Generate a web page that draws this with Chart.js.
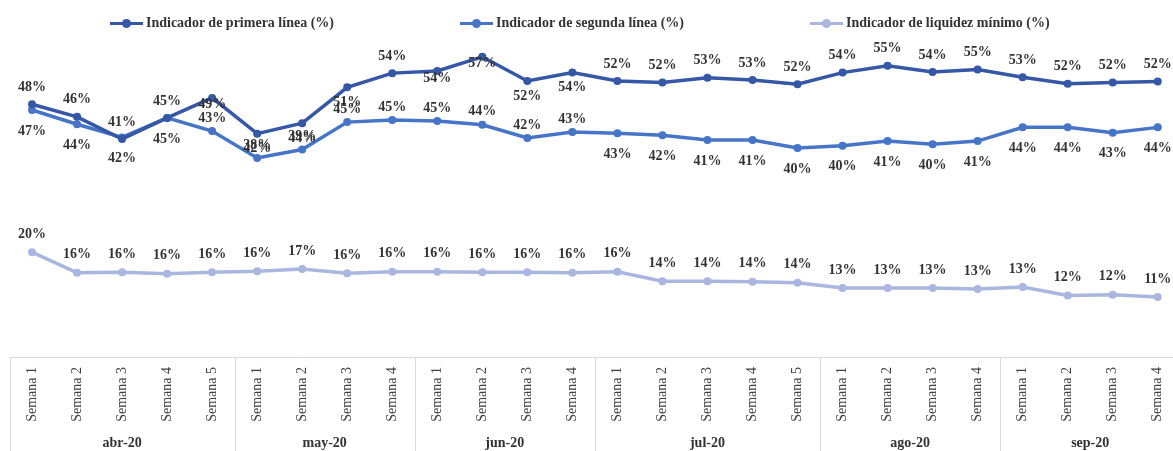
<!DOCTYPE html>
<html lang="es">
<head>
<meta charset="utf-8">
<title>Indicadores de liquidez</title>
<script src="https://cdn.jsdelivr.net/npm/chart.js@4.4.0/dist/chart.umd.min.js"></script>
<style>
  html, body { margin: 0; padding: 0; background: #fff; overflow: hidden; }
  .wrap { position: relative; width: 1173px; height: 451px; }
  .legend { position: absolute; top: 0; left: 0; width: 100%; height: 40px; }
  .legend-item {
    position: absolute; top: 15px; display: flex; align-items: center;
    font: bold 14px "Liberation Serif", serif; color: #333; white-space: nowrap;
  }
  .legend-mark { position: relative; width: 33px; height: 3px; margin-right: 3px; }
  .legend-mark::after {
    content: ""; position: absolute; left: 12px; top: -3px;
    width: 9px; height: 9px; border-radius: 50%; background: inherit;
  }
</style>
</head>
<body>
<div class="wrap">
  <div class="legend" id="legend"></div>
  <canvas id="chart" width="1173" height="451"></canvas>
</div>
<script>
// data
const weekLabels = [
  "Semana 1", "Semana 2", "Semana 3", "Semana 4", "Semana 5",
  "Semana 1", "Semana 2", "Semana 3", "Semana 4",
  "Semana 1", "Semana 2", "Semana 3", "Semana 4",
  "Semana 1", "Semana 2", "Semana 3", "Semana 4", "Semana 5",
  "Semana 1", "Semana 2", "Semana 3", "Semana 4",
  "Semana 1", "Semana 2", "Semana 3", "Semana 4"
];
const monthLabels = ["abr-20", "may-20", "jun-20", "jul-20", "ago-20", "sep-20"];
const weeksPerMonth = [5, 4, 4, 5, 4, 4];

const primeraLinea = [48, 45.6, 41.4, 45.4, 49.2, 42.4, 44.4, 51.2, 53.9, 54.3, 57, 52.4, 54,
  52.4, 52.1, 53, 52.6, 51.8, 54, 55.3, 54.1, 54.6, 53.1, 51.9, 52.1, 52.3];
const segundaLinea = [46.9, 44.2, 41.7, 45.4, 42.9, 37.8, 39.4, 44.6, 45, 44.8, 44.1, 41.6, 42.7,
  42.5, 42.1, 41.2, 41.2, 39.7, 40.1, 41, 40.4, 41, 43.6, 43.6, 42.6, 43.6];
const liquidezMinimo = [19.9, 16, 16.1, 15.8, 16.1, 16.3, 16.7, 15.9, 16.2, 16.2, 16.1, 16.1, 16,
  16.2, 14.4, 14.4, 14.3, 14.1, 13.1, 13.1, 13.1, 12.9, 13.3, 11.7, 11.8, 11.4];

// where each data label sits relative to its point
const primeraPos = ["above", "above", "above", "above", "center", "below", "below", "below",
  "above", "center", "center", "below", "below"].concat(Array(13).fill("above"));
const segundaPos = ["below", "below", "below", "below"].concat(Array(9).fill("above"), Array(13).fill("below"));
const liquidezPos = Array(26).fill("above");

const series = [
  { label: "Indicador de primera línea (%)", data: primeraLinea, color: "#3557a6", pos: primeraPos,
    offsets: { above: -17, below: 15, center: 7 } },
  { label: "Indicador de segunda línea (%)", data: segundaLinea, color: "#4674c6", pos: segundaPos,
    offsets: { above: -13, below: 21, center: 0 } },
  { label: "Indicador de liquidez mínimo (%)", data: liquidezMinimo, color: "#aab6df", pos: liquidezPos,
    offsets: { above: -18, below: 18, center: 0 } }
];

// legend (html)
const legendLeft = [110, 460, 810];
const legendEl = document.getElementById("legend");
series.forEach((s, i) => {
  const item = document.createElement("div");
  item.className = "legend-item";
  item.style.left = legendLeft[i] + "px";
  const mark = document.createElement("span");
  mark.className = "legend-mark";
  mark.style.background = s.color;
  item.appendChild(mark);
  item.appendChild(document.createTextNode(s.label));
  legendEl.appendChild(item);
});

const labelFont = 'bold 14px "Liberation Serif", serif';

// value labels next to points
const valueLabels = {
  id: "valueLabels",
  afterDatasetsDraw(chart) {
    const { ctx } = chart;
    ctx.save();
    ctx.font = labelFont;
    ctx.fillStyle = "#333";
    ctx.textAlign = "center";
    ctx.textBaseline = "middle";
    chart.data.datasets.forEach((ds, di) => {
      const meta = chart.getDatasetMeta(di);
      const s = series[di];
      meta.data.forEach((pt, i) => {
        const value = ds.data[i].y;
        const dy = s.offsets[s.pos[i]];
        ctx.fillText(Math.round(value) + "%", pt.x, pt.y + dy);
      });
    });
    ctx.restore();
  }
};

// month row and table lines under the week labels
const monthAxis = {
  id: "monthAxis",
  afterDraw(chart) {
    const { ctx, chartArea } = chart;
    const x = chart.scales.x;
    const top = chartArea.bottom;
    const bottom = chart.height;
    ctx.save();
    ctx.strokeStyle = "#d9d9d9";
    ctx.lineWidth = 1;
    ctx.beginPath();
    ctx.moveTo(x.getPixelForValue(-0.5), top + 0.5);
    ctx.lineTo(chart.width, top + 0.5);
    let start = 0;
    const edges = [-0.5];
    weeksPerMonth.forEach(n => { start += n; edges.push(start - 0.5); });
    edges.forEach(v => {
      const px = Math.round(x.getPixelForValue(v)) + 0.5;
      ctx.moveTo(px, top);
      ctx.lineTo(px, bottom);
    });
    ctx.stroke();

    ctx.font = 'bold 14px "Liberation Serif", serif';
    ctx.fillStyle = "#333";
    ctx.textAlign = "center";
    ctx.textBaseline = "middle";
    start = 0;
    monthLabels.forEach((m, i) => {
      const first = start, last = start + weeksPerMonth[i] - 1;
      const cx = (x.getPixelForValue(first) + x.getPixelForValue(last)) / 2;
      ctx.fillText(m, cx, 443);
      start += weeksPerMonth[i];
    });
    ctx.restore();
  }
};

const ctx = document.getElementById("chart").getContext("2d");
new Chart(ctx, {
  type: "line",
  data: {
    datasets: series.map(s => ({
      label: s.label,
      data: s.data.map((v, i) => ({ x: i, y: v })),
      borderColor: s.color,
      backgroundColor: s.color,
      borderWidth: 3.5,
      pointRadius: 4,
      pointBorderWidth: 0,
      tension: 0
    }))
  },
  plugins: [valueLabels, monthAxis],
  options: {
    responsive: false,
    animation: false,
    layout: { padding: { left: 9.5, right: 0, top: 41, bottom: 0 } },
    plugins: { legend: { display: false }, tooltip: { enabled: false } },
    scales: {
      x: {
        type: "linear",
        min: -0.5,
        max: 25.25,
        grid: { display: false, drawTicks: false },
        border: { display: false },
        afterBuildTicks: scale => { scale.ticks = weekLabels.map((_, i) => ({ value: i })); },
        afterFit: scale => {
          scale.height = 94;
          scale.paddingLeft = 0;
          scale.paddingRight = 0;
        },
        ticks: {
          autoSkip: false,
          minRotation: 90,
          maxRotation: 90,
          padding: 10,
          color: "#404040",
          font: { family: '"Liberation Serif", serif', size: 14 },
          callback: value => weekLabels[value]
        }
      },
      y: { display: false, min: 0, max: 60 }
    }
  }
});
</script>
</body>
</html>
